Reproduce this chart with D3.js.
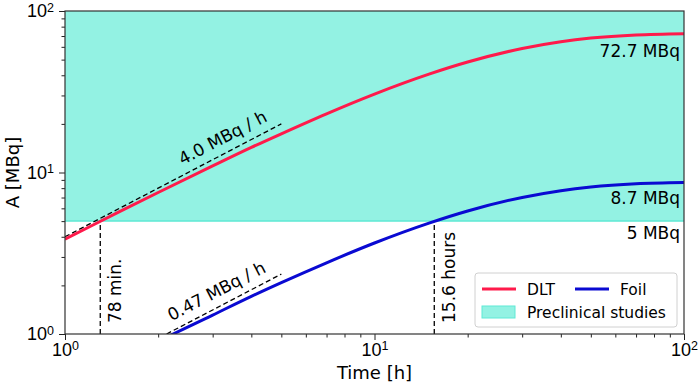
<!DOCTYPE html>
<html>
<head>
<meta charset="utf-8">
<script src="https://cdn.jsdelivr.net/npm/d3@7"></script>
<style>
  body { margin: 0; background: #fff; }
  svg { font-family: "DejaVu Sans", sans-serif; }
</style>
</head>
<body>
<div id="chart"></div>
<script>
// Activity build-up of the two targets.
const timeH = [1, 1.25, 1.5, 2, 3, 4, 5, 7, 10, 15, 20, 30, 40, 50, 70, 100];
const dltMBq = [3.86, 4.8, 5.72, 7.52, 10.98, 14.3, 17.37, 23.09, 30.59, 40.65, 48.31, 58.57, 64.51, 67.96, 71.11, 72.39];
const foilMBq = [0.46, 0.57, 0.68, 0.90, 1.31, 1.71, 2.08, 2.76, 3.66, 4.86, 5.78, 7.01, 7.72, 8.13, 8.51, 8.66];

// initial slopes (dashed guides)
const dltRateT = [1, 5];
const dltRateA = [4.0, 20.0];
const foilRateT = [2.13, 5];
const foilRateA = [1.0, 2.35];

const thresholdMBq = 5;
const crossT = [1.3, 15.6];
const crossLabels = ['78 min.', '15.6 hours'];
const endLabels = ['72.7 MBq', '8.7 MBq', '5 MBq'];
const endValues = [72.7, 8.7, 5];

const W = 699, H = 384;
const m = { top: 11, right: 15, bottom: 50, left: 65 };
const innerW = W - m.left - m.right;
const innerH = H - m.top - m.bottom;

const RED = '#ff1a4b', BLUE = '#0a0ad2', FILL = '#93f2e3', EDGE = '#5fe9d5';

const svg = d3.select('#chart').append('svg').attr('width', W).attr('height', H);
const g = svg.append('g').attr('transform', `translate(${m.left},${m.top})`);

const x = d3.scaleLog().domain([1, 100]).range([0, innerW]);
const y = d3.scaleLog().domain([1, 100]).range([innerH, 0]);

svg.append('defs').append('clipPath').attr('id', 'clip')
  .append('rect').attr('width', innerW).attr('height', innerH);

const plot = g.append('g').attr('clip-path', 'url(#clip)');

// Preclinical studies band
plot.append('rect')
  .attr('x', 0).attr('width', innerW)
  .attr('y', y(100)).attr('height', y(thresholdMBq) - y(100))
  .attr('fill', FILL);
plot.append('line')
  .attr('x1', 0).attr('x2', innerW)
  .attr('y1', y(thresholdMBq)).attr('y2', y(thresholdMBq))
  .attr('stroke', EDGE).attr('stroke-width', 1.5);

const line = d3.line().x(d => x(d[0])).y(d => y(d[1])).curve(d3.curveMonotoneX);

// dashed slope guides
[[dltRateT, dltRateA], [foilRateT, foilRateA]].forEach(([ts, as]) => {
  plot.append('path')
    .datum(ts.map((t, i) => [t, as[i]]))
    .attr('fill', 'none').attr('stroke', '#000')
    .attr('stroke-width', 1.3).attr('stroke-dasharray', '5,3')
    .attr('d', d3.line().x(d => x(d[0])).y(d => y(d[1])));
});

// vertical markers where each curve reaches 5 MBq
crossT.forEach(t => {
  plot.append('line')
    .attr('x1', x(t)).attr('x2', x(t))
    .attr('y1', y(1)).attr('y2', y(thresholdMBq))
    .attr('stroke', '#000').attr('stroke-width', 1.3).attr('stroke-dasharray', '5,3');
});

plot.append('path').datum(timeH.map((t, i) => [t, dltMBq[i]]))
  .attr('fill', 'none').attr('stroke', RED).attr('stroke-width', 3).attr('d', line);
plot.append('path').datum(timeH.map((t, i) => [t, foilMBq[i]]))
  .attr('fill', 'none').attr('stroke', BLUE).attr('stroke-width', 3).attr('d', line);

// rotated rate labels along the guides
function rateLabel(ts, as, tAt, txt) {
  const ang = Math.atan2(y(as[0]) - y(as[1]), x(ts[1]) - x(ts[0])) * 180 / Math.PI;
  const aAt = as[0] * tAt / ts[0];
  g.append('text')
    .attr('transform', `translate(${x(tAt)},${y(aAt)}) rotate(${-ang})`)
    .attr('dy', -9)
    .attr('text-anchor', 'middle')
    .attr('font-size', 17)
    .text(txt);
}
rateLabel(dltRateT, dltRateA, 3.4, '4.0 MBq / h');
rateLabel(foilRateT, foilRateA, 3.25, '0.47 MBq / h');

crossT.forEach((t, i) => {
  g.append('text')
    .attr('transform', `translate(${x(t) + 21},${y(1) - 11}) rotate(-90)`)
    .attr('font-size', 17)
    .text(crossLabels[i]);
});

const endDy = [24, 22, 18];
endLabels.forEach((txt, i) => {
  g.append('text')
    .attr('x', innerW - 4).attr('y', y(endValues[i]) + endDy[i])
    .attr('text-anchor', 'end').attr('font-size', 17)
    .text(txt);
});

// axes: major ticks with labels, minor ticks without
const majors = [1, 10, 100];
const minors = [];
[1, 10].forEach(b => { for (let k = 2; k <= 9; k++) minors.push(b * k); });

function styleAxis(sel) {
  sel.select('.domain').remove();
  sel.selectAll('line').attr('stroke', '#222').attr('stroke-width', 1);
}
function supLabels(sel) {
  sel.selectAll('text').each(function (d) {
    const t = d3.select(this).attr('font-size', 18).attr('fill', '#000').text('10');
    t.append('tspan').attr('dy', '-0.45em').attr('font-size', 12.5).text(Math.round(Math.log10(d)));
  });
}

const gx = g.append('g').attr('transform', `translate(0,${innerH})`);
gx.append('g').call(d3.axisBottom(x).tickValues(minors).tickSize(3.5).tickFormat('')).call(styleAxis);
gx.append('g').call(d3.axisBottom(x).tickValues(majors).tickSize(6).tickPadding(3)).call(styleAxis).call(supLabels);
gx.selectAll('text').attr('dy', '0.72em');

const gy = g.append('g');
gy.append('g').call(d3.axisLeft(y).tickValues(minors).tickSize(3.5).tickFormat('')).call(styleAxis);
gy.append('g').call(d3.axisLeft(y).tickValues(majors).tickSize(6).tickPadding(5)).call(styleAxis).call(supLabels);

// frame
g.append('rect').attr('width', innerW).attr('height', innerH)
  .attr('fill', 'none').attr('stroke', '#333').attr('stroke-width', 1.2);

svg.append('text')
  .attr('x', m.left + innerW / 2).attr('y', H - 5)
  .attr('text-anchor', 'middle').attr('font-size', 18)
  .text('Time [h]');
svg.append('text')
  .attr('transform', `translate(19,${m.top + innerH / 2}) rotate(-90)`)
  .attr('text-anchor', 'middle').attr('font-size', 18)
  .text('A [MBq]');

// legend
const lg = g.append('g').attr('transform', `translate(${x(1) + 410},${262})`);
lg.append('rect').attr('width', 202).attr('height', 54).attr('rx', 3)
  .attr('fill', '#fff').attr('fill-opacity', 0.85).attr('stroke', '#d0d0d0');
const items = [
  { label: 'DLT', color: RED, dx: 7, dy: 16 },
  { label: 'Foil', color: BLUE, dx: 100, dy: 16 }
];
items.forEach(it => {
  lg.append('line').attr('x1', it.dx).attr('x2', it.dx + 34)
    .attr('y1', it.dy).attr('y2', it.dy)
    .attr('stroke', it.color).attr('stroke-width', 3);
  lg.append('text').attr('x', it.dx + 45).attr('y', it.dy + 5.5)
    .attr('font-size', 15.5).text(it.label);
});
lg.append('rect').attr('x', 7).attr('y', 33).attr('width', 33).attr('height', 12)
  .attr('fill', FILL).attr('stroke', EDGE);
lg.append('text').attr('x', 52).attr('y', 44.5).attr('font-size', 15.5).text('Preclinical studies');
</script>
</body>
</html>
